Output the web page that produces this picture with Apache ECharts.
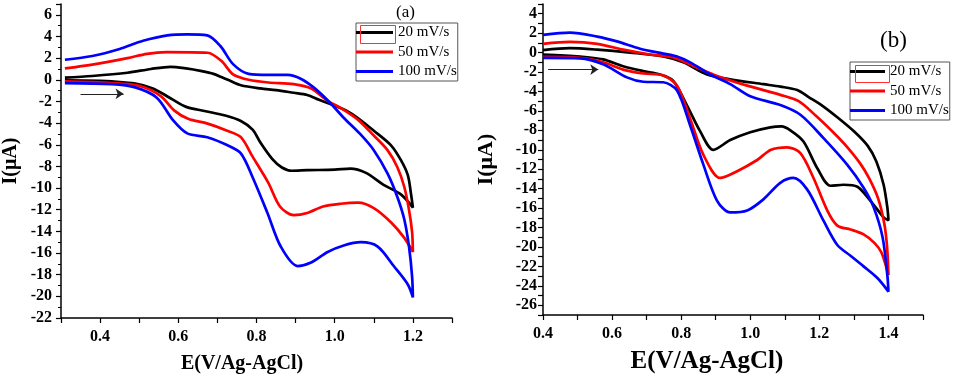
<!DOCTYPE html>
<html>
<head>
<meta charset="utf-8">
<style>
  html, body { margin: 0; padding: 0; background: #fff; }
  #chart { width: 957px; height: 379px; }
</style>
<script src="https://cdn.jsdelivr.net/npm/echarts@6/dist/echarts.min.js"></script>
</head>
<body>
<div id="chart"></div>
<script>
// CV loops: forward scan (lower branch) then return (upper branch)
const names = ["20 mV/s", "50 mV/s", "100 mV/s"];
const colors = ["#000000", "#ff0000", "#0000ff"];

// panel (a)
const a20 = [
  [0.31, -0.05], [0.40, -0.1], [0.43, -0.15], [0.49, -0.35], [0.535, -0.8], [0.58, -1.7],
  [0.62, -2.5], [0.67, -2.9], [0.72, -3.3], [0.76, -3.8], [0.79, -4.6], [0.81, -5.8],
  [0.84, -7.3], [0.865, -8.1], [0.89, -8.4], [0.93, -8.35], [1.0, -8.3], [1.04, -8.2],
  [1.08, -8.6], [1.125, -9.7], [1.17, -10.6], [1.2, -11.8],
  [1.195, -10.5], [1.187, -8.8], [1.169, -7.4], [1.144, -6.05], [1.1, -4.7], [1.06, -3.55],
  [1.03, -2.85], [1.0, -2.4], [0.96, -1.85], [0.93, -1.4], [0.895, -1.2], [0.85, -0.95],
  [0.81, -0.8], [0.76, -0.5], [0.73, -0.05], [0.71, 0.25], [0.69, 0.55], [0.66, 0.8],
  [0.62, 1.05], [0.58, 1.2], [0.53, 1.0], [0.47, 0.65], [0.38, 0.35], [0.31, 0.2]
];
const a50 = [
  [0.31, -0.15], [0.43, -0.3], [0.50, -0.55], [0.555, -1.5], [0.59, -2.85], [0.625, -3.6],
  [0.675, -4.05], [0.725, -4.7], [0.76, -5.3], [0.79, -7.1], [0.83, -9.5], [0.86, -11.7],
  [0.895, -12.5], [0.93, -12.3], [0.97, -11.7], [1.015, -11.45], [1.06, -11.35], [1.1, -11.85],
  [1.145, -13.2], [1.178, -14.6], [1.2, -15.9],
  [1.198, -14.1], [1.19, -12.0], [1.178, -9.9], [1.16, -8.05], [1.135, -6.5], [1.1, -5.15],
  [1.06, -3.7], [1.02, -2.7], [0.98, -1.9], [0.94, -0.8], [0.895, -0.4], [0.83, -0.25],
  [0.78, 0.0], [0.74, 0.5], [0.71, 1.75], [0.675, 2.5], [0.57, 2.55], [0.52, 2.4],
  [0.47, 2.0], [0.38, 1.4], [0.31, 1.05]
];
const a100 = [
  [0.31, -0.3], [0.43, -0.4], [0.49, -0.7], [0.545, -1.65], [0.587, -3.75], [0.623, -4.95],
  [0.674, -5.3], [0.726, -6.05], [0.76, -6.8], [0.79, -9.0], [0.828, -12.3], [0.862, -15.4],
  [0.905, -17.2], [0.938, -16.9], [0.982, -15.9], [1.023, -15.3], [1.067, -15.0], [1.11, -15.4],
  [1.151, -17.2], [1.187, -18.9], [1.2, -20.1],
  [1.198, -18.2], [1.19, -15.4], [1.178, -12.9], [1.16, -10.8], [1.135, -8.65], [1.1, -6.5],
  [1.065, -5.0], [1.023, -3.5], [0.985, -2.0], [0.946, -0.7], [0.913, 0.1], [0.88, 0.45],
  [0.83, 0.45], [0.78, 0.55], [0.74, 1.45], [0.708, 3.1], [0.674, 4.1], [0.623, 4.2],
  [0.572, 4.1], [0.51, 3.6], [0.45, 2.85], [0.38, 2.2], [0.31, 1.85]
];

// panel (b)
const b20 = [
  [0.40, -0.2], [0.507, -0.4], [0.574, -0.7], [0.632, -1.4], [0.69, -1.9], [0.739, -2.25],
  [0.777, -2.9], [0.817, -5.45], [0.855, -8.1], [0.893, -10.0], [0.942, -9.0], [1.0, -8.2],
  [1.058, -7.7], [1.09, -7.6], [1.116, -8.0], [1.154, -9.15], [1.194, -11.9], [1.232, -13.7],
  [1.27, -13.6], [1.31, -13.8], [1.348, -15.25], [1.386, -16.95], [1.4, -17.25],
  [1.397, -16.0], [1.386, -13.6], [1.365, -11.2], [1.34, -9.6], [1.3, -8.1], [1.25, -6.6],
  [1.21, -5.5], [1.17, -4.6], [1.136, -3.85], [1.087, -3.5], [1.038, -3.25], [0.942, -2.75],
  [0.875, -2.25], [0.806, -1.0], [0.748, -0.4], [0.652, 0.0], [0.557, 0.3], [0.478, 0.45],
  [0.40, 0.25]
];
const b50 = [
  [0.40, -0.45], [0.507, -0.55], [0.574, -1.0], [0.632, -1.75], [0.69, -2.15], [0.748, -2.35],
  [0.788, -3.4], [0.826, -6.8], [0.864, -10.5], [0.913, -12.9], [0.962, -12.2], [1.02, -11.05],
  [1.06, -10.0], [1.107, -9.75], [1.145, -10.35], [1.183, -12.9], [1.223, -16.25], [1.252, -17.8],
  [1.29, -18.2], [1.328, -18.7], [1.36, -19.6], [1.38, -20.6], [1.4, -22.9],
  [1.396, -20.0], [1.388, -17.6], [1.37, -15.0], [1.345, -13.0], [1.32, -11.5], [1.28, -9.7],
  [1.24, -8.2], [1.19, -6.5], [1.14, -5.0], [1.087, -4.35], [0.991, -3.4], [0.904, -2.4],
  [0.846, -1.55], [0.777, -0.5], [0.71, -0.2], [0.632, 0.3], [0.557, 0.9], [0.478, 1.1],
  [0.40, 0.9]
];
const b100 = [
  [0.40, -0.55], [0.507, -0.6], [0.574, -1.2], [0.643, -2.55], [0.69, -3.0], [0.748, -3.05],
  [0.788, -3.9], [0.826, -7.5], [0.864, -11.5], [0.904, -15.25], [0.942, -16.45], [0.991, -16.25],
  [1.038, -15.1], [1.087, -13.4], [1.125, -12.9], [1.165, -14.1], [1.212, -17.3], [1.252, -19.8],
  [1.29, -20.9], [1.328, -22.0], [1.368, -23.2], [1.4, -24.6],
  [1.397, -23.0], [1.383, -19.0], [1.357, -15.9], [1.328, -13.9], [1.281, -11.55], [1.212, -8.8],
  [1.145, -6.4], [1.087, -5.4], [1.0, -4.5], [0.942, -3.25], [0.884, -2.25], [0.826, -1.0],
  [0.788, -0.4], [0.748, -0.1], [0.681, 0.4], [0.614, 1.15], [0.557, 1.65], [0.478, 2.06],
  [0.40, 1.83]
];

// scan-direction arrows
const arrowA = [[0.35, -1.3], [0.46, -1.3]];
const arrowB = [[0.415, -1.75], [0.56, -1.75]];

const serif = "Liberation Serif";
const evenTenth = (v) => (Math.round(v * 10) % 2 === 0 ? v.toFixed(1) : "");
const evenInt = (v) => (Math.round(v) % 2 === 0 ? String(Math.round(v)) : "");

function xAxis(grid, min, max, padRight, nameSize, nameGap) {
  return {
    type: "value", gridIndex: grid, min, max, interval: 0.1,
    name: "E(V/Ag-AgCl)", nameLocation: "middle", nameGap,
    nameTextStyle: { fontFamily: serif, fontWeight: "bold", fontSize: nameSize, color: "#000", padding: [0, padRight, 0, 0] },
    axisLine: { onZero: false, lineStyle: { color: "#000", width: 1.5 } },
    axisTick: { length: 5, lineStyle: { color: "#000", width: 1.2 } },
    axisLabel: { margin: 11, fontFamily: serif, fontWeight: "bold", fontSize: 16, color: "#000", formatter: evenTenth },
    splitLine: { show: false },
  };
}

function yAxis(grid, min, max, interval, minor, labelMargin, nameSize, nameGap) {
  return {
    type: "value", gridIndex: grid, min, max, interval,
    name: "I(μA)", nameLocation: "middle", nameGap, nameRotate: 90,
    nameTextStyle: { fontFamily: serif, fontWeight: "bold", fontSize: nameSize, color: "#000" },
    axisLine: { show: true, onZero: false, lineStyle: { color: "#000", width: 1.5 } },
    axisTick: { length: 5, lineStyle: { color: "#000", width: 1.2 } },
    minorTick: { show: minor, splitNumber: 2, length: 3, lineStyle: { color: "#000", width: 1 } },
    axisLabel: { margin: labelMargin, fontFamily: serif, fontWeight: "bold", fontSize: 16, color: "#000", formatter: evenInt },
    splitLine: { show: false },
    minorSplitLine: { show: false },
  };
}

function arrowLine(pts) {
  return {
    silent: true,
    symbol: ["none", "arrow"],
    symbolSize: 8,
    label: { show: false },
    lineStyle: { color: "#222", width: 1, type: "solid" },
    data: [[{ coord: pts[0] }, { coord: pts[1] }]],
  };
}

function loop(name, data, color, grid, arrow) {
  return {
    name, type: "line", data, xAxisIndex: grid, yAxisIndex: grid,
    showSymbol: false, symbol: "none", smooth: 0.3,
    lineStyle: { color, width: 2.7 }, itemStyle: { color },
    markLine: arrow ? arrowLine(arrow) : undefined,
  };
}

function legend(left, top, itemWidth) {
  return {
    orient: "vertical", left, top, data: names,
    icon: "rect", itemWidth, itemHeight: 3, itemGap: 4.5, itemTextGap: 4,
    padding: [2, 1, 2, 0],
    borderColor: "#555", borderWidth: 1, backgroundColor: "#fff",
    textStyle: { fontFamily: serif, fontSize: 15, color: "#000" },
    selectedMode: false,
  };
}

const chart = echarts.init(document.getElementById("chart"), null, { renderer: "canvas" });
chart.setOption({
  animation: false,
  backgroundColor: "#fff",
  grid: [
    { left: 61, right: 505, top: 4, bottom: 60 },
    { left: 543, right: 34, top: 4, bottom: 60 },
  ],
  xAxis: [xAxis(0, 0.3, 1.3, 29, 20, 36), xAxis(1, 0.4, 1.5, 52, 25, 34)],
  yAxis: [yAxis(0, -22, 7, 2, true, 9, 20, 40), yAxis(1, -27, 5, 1, false, 6, 22, 46)],
  legend: [legend(356, 23, 37), legend(850, 62, 35)],
  graphic: [
    { type: "text", left: 396, top: 4, style: { text: "(a)", font: "17px 'Liberation Serif'", fill: "#000" } },
    { type: "text", left: 880, top: 29, style: { text: "(b)", font: "23px 'Liberation Serif'", fill: "#000" } },
    // red selection boxes left around the first legend line
    { type: "rect", left: 358, top: 23, shape: { width: 35, height: 18 }, style: { fill: "none", stroke: "#ff3030", lineWidth: 1 }, z: 100 },
    { type: "rect", left: 853, top: 63, shape: { width: 34, height: 17 }, style: { fill: "none", stroke: "#ff3030", lineWidth: 1 }, z: 100 },
  ],
  series: [
    loop(names[0], a20, colors[0], 0, arrowA),
    loop(names[1], a50, colors[1], 0),
    loop(names[2], a100, colors[2], 0),
    loop(names[0], b20, colors[0], 1, arrowB),
    loop(names[1], b50, colors[1], 1),
    loop(names[2], b100, colors[2], 1),
  ],
});
</script>
</body>
</html>
